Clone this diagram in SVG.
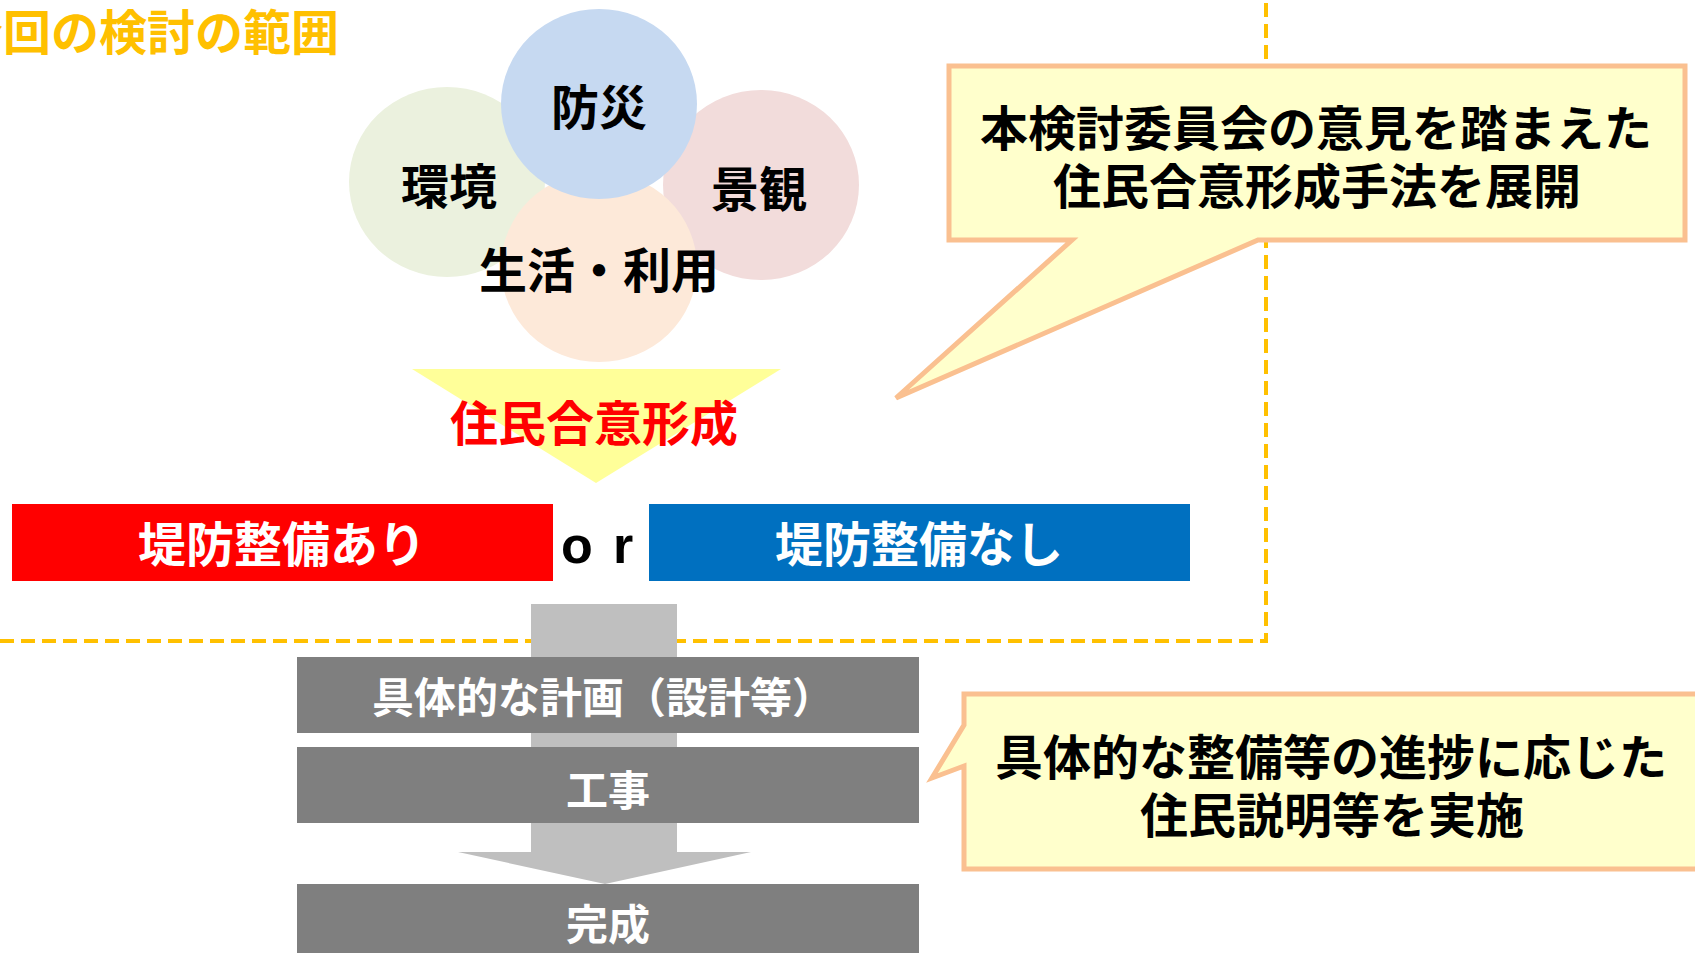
<svg xmlns="http://www.w3.org/2000/svg" width="1695" height="953" viewBox="0 0 1695 953">
<style>
text{font-family:"Noto Sans CJK JP","Noto Sans",sans-serif;font-weight:700;dominant-baseline:central;text-anchor:middle}
.k{fill:#000;font-size:48px}
.w{fill:#fff;font-size:48px}
.g{fill:#fff;font-size:42px}
.box{fill:#7F7F7F}
.call{fill:#FFFFCC;stroke:#FAC090;stroke-width:5;stroke-linejoin:miter}
</style>
<rect width="1695" height="953" fill="#fff"/>
<g id="scope">
<path d="M0 641 H1266 V0" fill="none" stroke="#FFC000" stroke-width="4" stroke-dasharray="14 7"/>
<text x="-45" y="29" style="text-anchor:start;fill:#FFC000;font-size:48px">今回の検討の範囲</text>
</g>
<g id="circles">
<g id="kankyo"><ellipse cx="447" cy="182" rx="98" ry="95" fill="#EBF1DE"/></g>
<g id="keikan"><ellipse cx="761" cy="185" rx="98" ry="95" fill="#F2DCDB"/></g>
<g id="seikatsu"><ellipse cx="599" cy="267" rx="98" ry="95" fill="#FDE9D9"/></g>
<g id="bousai"><ellipse cx="599" cy="104" rx="98" ry="95" fill="#C6D9F1"/></g>
<text class="k" x="599" y="104">防災</text>
<text class="k" x="449" y="183">環境</text>
<text class="k" x="759" y="186">景観</text>
<text class="k" x="599" y="267">生活・利用</text>
</g>
<g id="consensus">
<polygon points="412,369 781,369 596,483" fill="#FFFF99"/>
<text x="594" y="420" style="fill:#FF0000;font-size:48px">住民合意形成</text>
</g>
<g id="with-levee">
<rect x="12" y="504" width="541" height="77" fill="#FF0000"/>
<text class="w" x="282" y="541">堤防整備あり</text>
</g>
<text x="561" y="545" style="font-family:'Liberation Sans',sans-serif;font-size:52px;fill:#000;text-anchor:start"><tspan x="561">o</tspan> <tspan x="613">r</tspan></text>
<g id="without-levee">
<rect x="649" y="504" width="541" height="77" fill="#0070C0"/>
<text class="w" x="919" y="541">堤防整備なし</text>
</g>
<g id="connectors">
<polygon points="531,604 677,604 677,852 751,852 605,884 458,852 531,852" fill="#BFBFBF"/>
</g>
<g id="plan">
<rect class="box" x="297" y="657" width="622" height="76"/>
<text class="g" x="603" y="694">具体的な計画（設計等）</text>
</g>
<g id="construction">
<rect class="box" x="297" y="747" width="622" height="76"/>
<text class="g" x="608" y="787">工事</text>
</g>
<g id="complete">
<rect class="box" x="297" y="884" width="622" height="80"/>
<text class="g" x="608" y="921">完成</text>
</g>
<g id="callout1">
<path class="call" d="M949 66 H1685 V240 H1258 L896 398 L1072 240 H949 Z"/>
<text class="k" x="1316" y="125">本検討委員会の意見を踏まえた</text>
<text class="k" x="1317" y="183">住民合意形成手法を展開</text>
</g>
<g id="callout2">
<path class="call" d="M964 694 H1700 V869 H964 V766 L932 778 L964 725 Z"/>
<text class="k" x="1331" y="754">具体的な整備等の進捗に応じた</text>
<text class="k" x="1332" y="812">住民説明等を実施</text>
</g>
</svg>
